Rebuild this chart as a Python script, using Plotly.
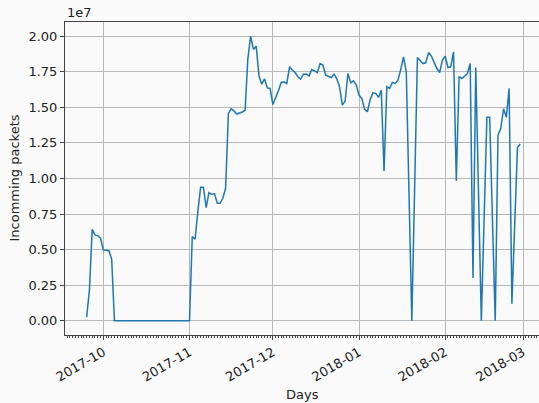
import pandas as pd
import plotly.graph_objects as go

# Daily incoming packets (in units of 1e7); None = no sample that day
start_date = "2017-09-25"
end_date = "2018-02-28"

sep_vals = [0.026, 0.218, 0.643, 0.604, 0.597, 0.58]
oct_vals = [0.498, 0.494, 0.492, 0.433] + [0.0] * 27
nov_vals = [0.0, 0.592, 0.573, 0.767, 0.938, 0.938, 0.795, 0.90, 0.89, 0.892,
            0.826, 0.826, 0.861, 0.931, 1.457, 1.49, 1.475, 1.453, 1.46, 1.467,
            1.48, 1.843, 2.0, 1.907, 1.93, 1.722, 1.663, 1.70, 1.637, 1.633]
dec_vals = [1.52, 1.567, 1.616, 1.675, 1.68, 1.668, 1.785, 1.762, 1.745, 1.715,
            1.699, 1.733, 1.735, 1.72, 1.766, 1.757, 1.745, 1.808, 1.797, 1.726,
            1.72, 1.71, 1.733, 1.70, 1.644, 1.516, 1.544, 1.738, 1.672, 1.686,
            1.656]
jan_vals = [1.586, 1.563, 1.488, 1.469, 1.555, 1.602, 1.598, 1.57, 1.621, 1.053,
            1.644, 1.633, 1.675, 1.668, 1.691, 1.766, 1.855, 1.75, None, 0.0,
            None, 1.85, 1.832, 1.808, 1.813, 1.885, 1.862, 1.813, 1.773, 1.745,
            1.832]
feb_vals = [1.86, 1.78, 1.785, 1.89, 0.985, 1.715, 1.703, 1.72, 1.738, 1.808,
            0.30, 1.78, None, 0.0, None, 1.43, 1.43, None, 0.0, 1.305,
            1.353, 1.49, 1.43, 1.633, 0.12, None, 1.217, 1.242]

scale = 1e7
y_ticks = [0, 0.25, 0.5, 0.75, 1.0, 1.25, 1.5, 1.75, 2.0]
y_tick_labels = ["0.00", "0.25", "0.50", "0.75", "1.00", "1.25", "1.50", "1.75", "2.00"]

days = pd.date_range(start_date, end_date, freq="D")
vals = sep_vals + oct_vals + nov_vals + dec_vals + jan_vals + feb_vals
packets = [None if v is None else v * scale for v in vals]

BG = "#fafafa"
SPINE = "#444444"
GRID = "#b8b8b8"
FONT = "DejaVu Sans"
TXT = "#222222"

fig = go.Figure()
fig.add_trace(go.Scatter(x=days, y=packets, mode="lines", connectgaps=True,
                         line=dict(color="#1f77b4", width=1.5)))

fig.update_layout(
    width=539, height=403,
    margin=dict(l=65, r=0, t=21.5, b=68.3),
    paper_bgcolor=BG, plot_bgcolor=BG,
    showlegend=False,
    font=dict(family=FONT, size=13, color=TXT),
)

fig.update_xaxes(
    type="date",
    range=["2017-09-17 05:00", "2018-03-06 18:00"],
    tick0="2017-10-01", dtick="M1", tickformat="%Y-%m",
    tickangle=-30,
    ticks="outside", ticklen=4, tickwidth=1, tickcolor=SPINE,
    showline=True, linecolor=SPINE, linewidth=1, mirror=True,
    showgrid=True, gridcolor=GRID, gridwidth=1,
    zeroline=False,
    minor=dict(ticks="outside", ticklen=2, tickwidth=0.8, tickcolor=SPINE,
               dtick=86400000, tick0="2017-10-01", showgrid=False),
    tickfont=dict(family=FONT, size=13, color=TXT),
)

fig.update_yaxes(
    range=[-0.1 * scale, 2.1 * scale],
    tickvals=[t * scale for t in y_ticks], ticktext=y_tick_labels,
    ticks="outside", ticklen=4, tickwidth=1, tickcolor=SPINE,
    showline=True, linecolor=SPINE, linewidth=1, mirror=False,
    showgrid=True, gridcolor=GRID, gridwidth=1,
    zeroline=False,
    tickfont=dict(family=FONT, size=13, color=TXT),
)

fig.add_annotation(text="1e7", xref="paper", yref="paper", x=0, y=1,
                   xanchor="left", yanchor="bottom", showarrow=False,
                   font=dict(family=FONT, size=13, color=TXT), yshift=0)
fig.add_annotation(text="Incomming packets", xref="paper", yref="paper",
                   x=0, y=0.5, xanchor="center", yanchor="middle",
                   xshift=-51, textangle=-90, showarrow=False,
                   font=dict(family=FONT, size=13, color=TXT))
fig.add_annotation(text="Days", xref="paper", yref="paper",
                   x=0.5, y=0, xanchor="center", yanchor="middle",
                   yshift=-59.5, showarrow=False,
                   font=dict(family=FONT, size=13, color=TXT))

fig.write_html("out.html")
